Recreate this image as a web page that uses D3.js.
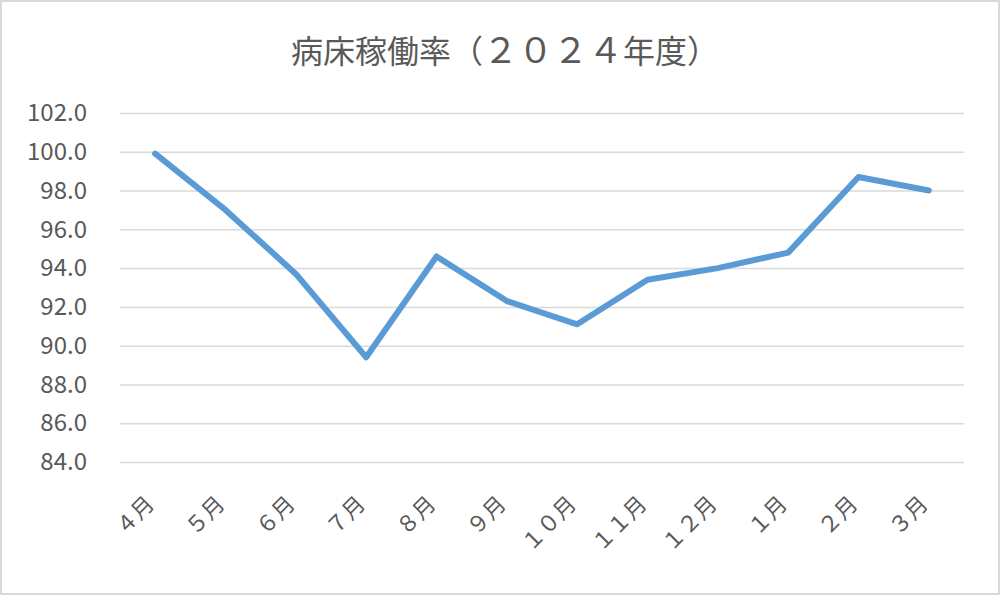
<!DOCTYPE html>
<html>
  <head>
    <meta charset="utf-8">
    <script src="https://d3js.org/d3.v7.min.js"></script>
    <title>病床稼働率</title>
    <style>
      body { margin: 0px; }
      svg { display: block; }
      .domain { display: none; }
      .tick line { stroke: #D9D9D9; stroke-width: 1.5; }
      .tick text {
        fill: #595959;
        font-family: "Noto Sans CJK JP", sans-serif;
      }
      .y-axis .tick text { font-size: 24px; }
      .x-axis .tick text { font-size: 22px; }
      .title {
        fill: #595959;
        font-size: 32px;
        font-family: "Noto Sans CJK JP", sans-serif;
      }
    </style>
  </head>
  <body>
    <svg width="1000" height="595"></svg>
    <script>
      const months = ['４月', '５月', '６月', '７月', '８月', '９月', '１０月', '１１月', '１２月', '１月', '２月', '３月'];
      const rates = [99.9, 97.0, 93.7, 89.4, 94.6, 92.3, 91.1, 93.4, 94.0, 94.8, 98.7, 98.0];
      const yTicks = [84, 86, 88, 90, 92, 94, 96, 98, 100, 102];
      // title pieces: the year digits are drawn a little larger, as in the source
      const titleParts = ['病床稼働率（', '２０２４', '年度）'];

      const svg = d3.select('svg');
      const width = +svg.attr('width');
      const height = +svg.attr('height');
      const margin = { left: 120, right: 36, top: 113, bottom: 133 };
      const innerWidth = width - margin.left - margin.right;
      const innerHeight = height - margin.top - margin.bottom;

      // chart area border
      svg.append('rect')
          .attr('x', 1).attr('y', 1)
          .attr('width', width - 2).attr('height', height - 2)
          .attr('fill', '#fff')
          .attr('stroke', '#D9D9D9')
          .attr('stroke-width', 2);

      const title = svg.append('text')
          .attr('class', 'title')
          .attr('x', 505)
          .attr('y', 63)
          .attr('text-anchor', 'middle');
      title.selectAll('tspan')
        .data(titleParts)
        .enter().append('tspan')
          .style('font-size', (d, i) => i === 1 ? '35px' : null)
          .text(d => d);

      const g = svg.append('g')
          .attr('transform', `translate(${margin.left},${margin.top})`);

      const xScale = d3.scaleBand()
          .domain(months)
          .range([0, innerWidth])
          .padding(0);

      const yScale = d3.scaleLinear()
          .domain([84, 102])
          .range([innerHeight, 0]);

      const yAxis = d3.axisLeft(yScale)
          .tickValues(yTicks)
          .tickFormat(d3.format('.1f'))
          .tickSize(-innerWidth)
          .tickPadding(33);

      g.append('g')
          .attr('class', 'y-axis')
          .call(yAxis);

      const xAxisG = g.append('g')
          .attr('class', 'x-axis')
          .attr('transform', `translate(0, ${innerHeight})`)
          .call(d3.axisBottom(xScale).tickSize(0));

      xAxisG.selectAll('.tick text')
          .attr('text-anchor', 'end')
          .attr('dy', '0.35em')
          .attr('transform', 'translate(-5, 38) rotate(-45)')
          .attr('y', 0)
          .attr('x', 0);

      const xc = d => xScale(d) + xScale.bandwidth() / 2;

      const line = d3.line()
          .x((d, i) => xc(months[i]))
          .y(d => yScale(d));

      g.append('path')
          .datum(rates)
          .attr('fill', 'none')
          .attr('stroke', '#5B9BD5')
          .attr('stroke-width', 6)
          .attr('stroke-linecap', 'round')
          .attr('stroke-linejoin', 'round')
          .attr('d', line);
    </script>
  </body>
</html>
